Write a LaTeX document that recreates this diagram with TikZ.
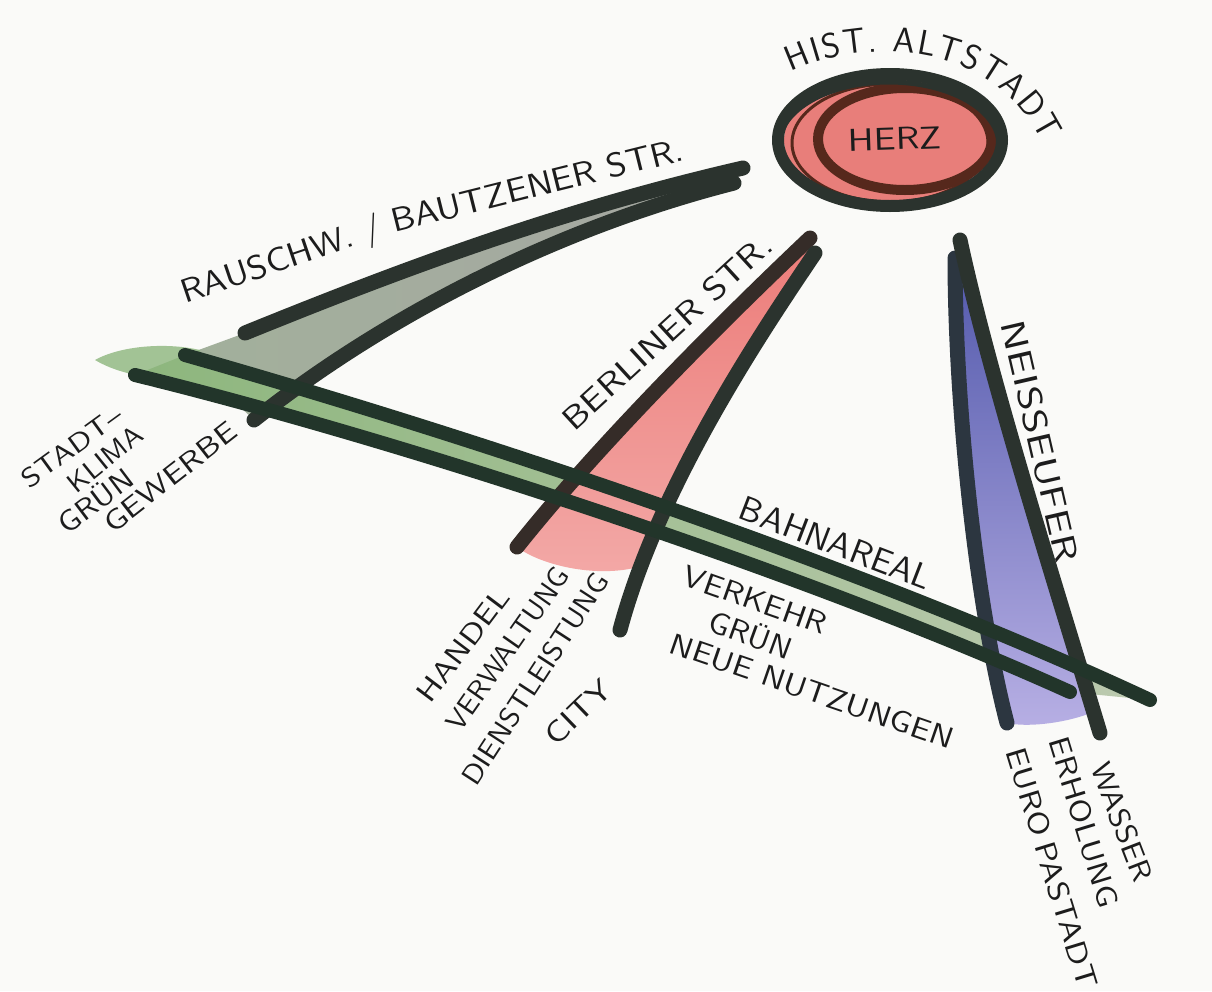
\documentclass[tikz,border=0pt]{standalone}
\usepackage{fontspec}
\usepackage{graphicx}
\usetikzlibrary{decorations.text}
\definecolor{paper}{HTML}{FAFAF8}
\definecolor{ink}{HTML}{2B332E}
\definecolor{railink}{HTML}{22352A}
\definecolor{berlink}{HTML}{352C28}
\definecolor{neisseink}{HTML}{2C3640}
\definecolor{herzred}{HTML}{E87E7A}
\definecolor{herzbrown}{HTML}{56281C}
\definecolor{graygreen}{HTML}{A2B09B}
\definecolor{graystone}{HTML}{A6A7A3}
\definecolor{railgreenA}{HTML}{8DB67D}
\definecolor{railgreenB}{HTML}{BCCAB0}
\definecolor{redA}{HTML}{EC7C79}
\definecolor{redB}{HTML}{F3A9A7}
\definecolor{blueA}{HTML}{4F56AA}
\definecolor{blueB}{HTML}{A39DDB}
\definecolor{blueC}{HTML}{B7AFE4}
\definecolor{pen}{HTML}{1C1C1C}
\newcommand\lbl[3]{\resizebox{#1pt}{#2pt}{\sffamily #3}}
\begin{document}
\begin{tikzpicture}[x=1pt,y=-1pt,
  road/.style={line width=15pt, line cap=round, color=ink},
  railline/.style={line width=14pt, line cap=round, color=railink},
  lab/.style={inner sep=0pt, text=pen}]
\fill[paper] (0,0) rectangle (1212,991);
\useasboundingbox (0,0) rectangle (1212,991);

% ---------- fills ----------
% Rauschwalder / Bautzener grey wedge
\path[left color=graygreen, right color=graystone]
  (185,355) -- (245,333) .. controls (400,270) and (560,210) .. (743,168)
  -- (734,183) .. controls (550,230) and (380,320) .. (254,420) -- cycle;
% green smudge at the left end of the rail strip
\fill[railgreenA, opacity=.8] (95,360) .. controls (120,346) and (165,342) .. (200,350)
  -- (200,378) .. controls (160,382) and (120,375) .. (95,360) -- cycle;
% Bahnareal green strip
\path[left color=railgreenA, right color=railgreenB]
  (185,355) .. controls (450,430) and (850,560) .. (1150,700)
  -- (1070,692) .. controls (800,570) and (400,440) .. (135,375) -- cycle;
% Berliner Str. red wedge
\path[top color=redA, bottom color=redB]
  (810,238) .. controls (755,290) and (610,430) .. (517,547)
  .. controls (540,565) and (600,580) .. (645,565)
  .. controls (675,470) and (770,320) .. (815,253) -- cycle;
% Neisseufer blue wedge
\path[top color=blueA, middle color=blueB, bottom color=blueC]
  (955,258) .. controls (955,400) and (975,600) .. (1007,723)
  .. controls (1030,728) and (1070,722) .. (1093,712)
  .. controls (1060,600) and (995,380) .. (960,240) -- cycle;

% ---------- marker lines ----------
\draw[road] (245,333) .. controls (400,270) and (560,210) .. (743,168);
\draw[road] (254,420) .. controls (380,320) and (550,230) .. (734,183);
\draw[road, color=berlink] (810,238) .. controls (755,290) and (610,430) .. (517,547);
\draw[road] (815,253) .. controls (770,320) and (660,480) .. (620,630);
\draw[road, color=neisseink] (955,258) .. controls (955,400) and (975,600) .. (1007,723);
\draw[road] (960,240) .. controls (990,380) and (1060,600) .. (1100,733);
\draw[railline] (185,355) .. controls (450,430) and (850,560) .. (1150,700);
\draw[railline] (135,375) .. controls (400,440) and (800,570) .. (1070,692);

% ---------- Herz (historic old town) ----------
\fill[herzred] (892,140) ellipse [x radius=108, y radius=66];
\draw[line width=3pt, herzbrown] (890,143) ellipse [x radius=98, y radius=59];
\draw[line width=10pt, herzbrown] (905,139) ellipse [x radius=87, y radius=51];
\draw[line width=12pt, ink] (890,140) ellipse [x radius=112, y radius=66];
\draw[line width=5pt, ink] (889,145) ellipse [x radius=110, y radius=63];
\node[lab, rotate=2] (herz) at (895,139) {\lbl{94}{22}{HERZ}};

% ---------- labels ----------
\path[decorate, decoration={text along path, text align={fit to path},
  text={|\sffamily\fontsize{35}{35}\selectfont\color{pen}|HIST. ALTSTADT}}]
  (791,72) .. controls (855,40) and (990,35) .. (1042,142);

\node[lab, rotate=18.7] (rauschw) at (282,262) {\lbl{210}{25}{RAUSCHW. /}};
\node[lab, rotate=14] (bautzener) at (537,185) {\lbl{300}{24}{BAUTZENER STR.}};
\node[lab, rotate=42.5] (berliner) at (667,332) {\lbl{272}{23}{BERLINER STR.}};
\node[lab, rotate=-21] (bahnareal) at (836,543) {\lbl{203}{24}{BAHNAREAL}};
\node[lab, rotate=-77] (neisse) at (1040,441) {\lbl{247}{24}{NEISSEUFER}};

\node[lab, rotate=36] (stadt) at (72,447) {\lbl{118}{19}{STADT–}};
\node[lab, rotate=39] (klima) at (105,459) {\lbl{88}{19}{KLIMA}};
\node[lab, rotate=37] (gruen1) at (95,500) {\lbl{86}{24}{GRÜN}};
\node[lab, rotate=38] (gewerbe) at (170,477) {\lbl{160}{20}{GEWERBE}};

\node[lab, rotate=53] (handel) at (463,645) {\lbl{133}{20}{HANDEL}};
\node[lab, rotate=55] (verwaltung) at (508,649) {\lbl{192}{20}{VERWALTUNG}};
\node[lab, rotate=57] (dienst) at (535,679) {\lbl{246}{20}{DIENSTLEISTUNG}};
\node[lab, rotate=44] (city) at (578,712) {\lbl{80}{21}{CITY}};

\node[lab, rotate=-19.5] (verkehr) at (755,600) {\lbl{150}{21}{VERKEHR}};
\node[lab, rotate=-20] (gruen2) at (751,634) {\lbl{86}{25}{GRÜN}};
\node[lab, rotate=-19] (neue) at (812,691) {\lbl{298}{21}{NEUE NUTZUNGEN}};

\node[lab, rotate=-69] (wasser) at (1122,822) {\lbl{125}{21}{WASSER}};
\node[lab, rotate=-73] (erholung) at (1084,822) {\lbl{177}{21}{ERHOLUNG}};
\node[lab, rotate=-73] (europa) at (1052,868) {\lbl{250}{21}{EURO\hspace{0.2em}PASTADT}};
\end{tikzpicture}
\end{document}
